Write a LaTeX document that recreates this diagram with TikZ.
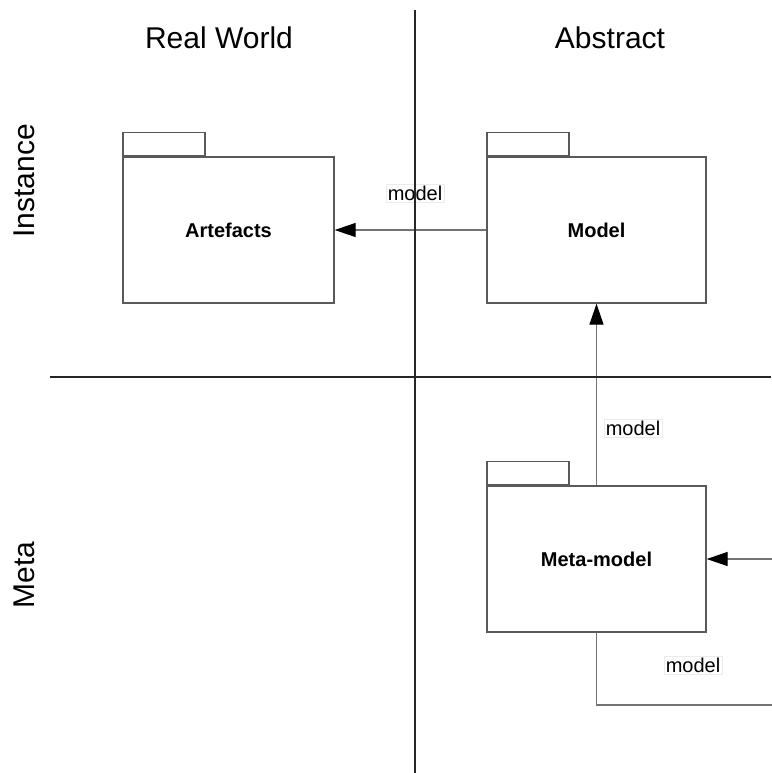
\documentclass[tikz,border=0pt]{standalone}
\usepackage{fontspec}
\setmainfont{Liberation Sans}
\usetikzlibrary{arrows.meta}

\begin{document}
\begin{tikzpicture}[x=1pt,y=-1pt,
  pkg/.style={draw=black!65, line width=1.3pt, fill=white, inner sep=0pt,
    font=\fontsize{20}{24}\selectfont\bfseries},
  tab/.style={draw=black!65, line width=1.3pt, fill=white, inner sep=0pt,
    minimum width=82pt, minimum height=23pt, anchor=south west},
  rel/.style={draw=black!55, line width=1.2pt,
    -{Triangle[length=21pt,width=14pt,color=black]}},
  relline/.style={draw=black!55, line width=1.2pt},
  lbl/.style={fill=white, draw=black!8, inner sep=1.5pt,
    font=\fontsize{20}{24}\selectfont},
  head/.style={font=\fontsize{30}{36}\selectfont},
  axis/.style={draw=black!85, line width=1.5pt}]

\useasboundingbox (0,0) rectangle (771,773);
\fill[white] (0,0) rectangle (771,773);

% headings
\node[head] (hReal) at (219,38) {Real World};
\node[head] (hAbs) at (610,38) {Abstract};
\node[head, rotate=90] (hInst) at (24,181) {Instance};
\node[head, rotate=90] (hMeta) at (24,575) {Meta};

% packages
\node[pkg, minimum width=211pt, minimum height=146pt] (art) at (228.5,230) {Artefacts};
\node[tab] (artTab) at (art.north west) {};
\node[pkg, minimum width=219pt, minimum height=146pt] (mod) at (596.5,230) {Model};
\node[tab] (modTab) at (mod.north west) {};
\node[pkg, minimum width=219pt, minimum height=146pt] (meta) at (596.5,559) {Meta-model};
\node[tab] (metaTab) at (meta.north west) {};

% relations
\draw[rel] (mod.west) -- (art.east);
\draw[rel] (meta.north) -- (mod.south);
\coordinate (loopB) at (790,705);
\coordinate (loopR) at (790,559);
\draw[relline] (meta.south) |- (loopB) -- (loopR);
\draw[rel] (loopR) -- (meta.east);

% relation labels
\node[lbl] (l1) at (415,193) {model};
\node[lbl] (l2) at (633,428) {model};
\node[lbl] (l3) at (693,665) {model};

% quadrant axes
\coordinate (vTop) at (415,10);
\coordinate (vBot) at (415,773);
\coordinate (hLeft) at (50,377);
\coordinate (hRight) at (771,377);
\draw[axis] (vTop) -- (vBot);
\draw[axis] (hLeft) -- (hRight);
\end{tikzpicture}
\end{document}
